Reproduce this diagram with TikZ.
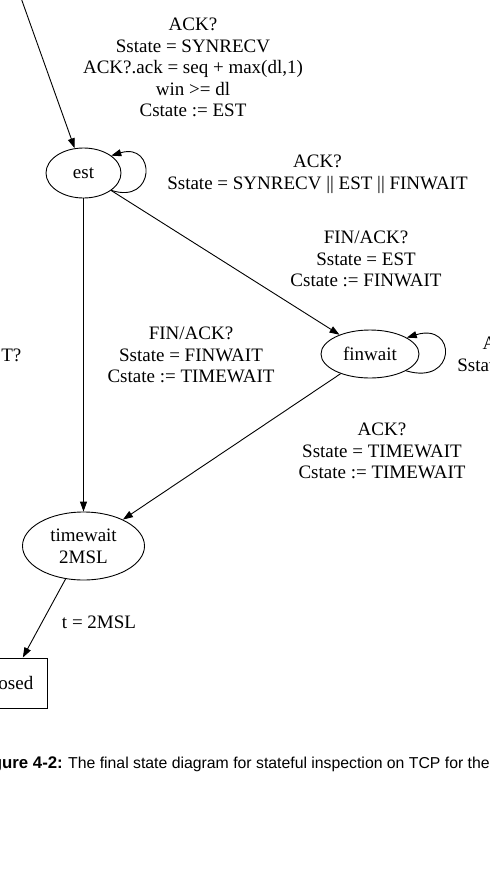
\documentclass[tikz,border=0pt]{standalone}
\usepackage{fontspec}
\setmainfont{Liberation Serif}
\newfontfamily\capfont{Liberation Sans}
\usetikzlibrary{arrows.meta,shapes.geometric}
\tikzset{
  lbl/.style={align=center,inner sep=0pt,font=\fontsize{19}{21.6}\selectfont},
  st/.style={draw,ellipse,line width=0.9pt,inner sep=0pt,font=\fontsize{19}{21.6}\selectfont,align=center},
  arr/.style={line width=0.9pt,-{Triangle[length=10pt,width=7pt]}},
  capt/.style={inner sep=0pt,font=\capfont\fontsize{15.8}{18}\selectfont}
}
\begin{document}
\begin{tikzpicture}[x=1pt,y=-1pt]
\useasboundingbox (0,0) rectangle (490,887);
\clip (0,0) rectangle (490,887);
% states
\node[st,minimum width=75pt,minimum height=50pt] (est) at (83.5,173) {est};
\node[st,minimum width=98pt,minimum height=48pt] (finwait) at (370,354) {finwait};
\node[st,minimum width=122pt,minimum height=68pt] (timewait) at (83.5,546) {timewait\\2MSL};
\node[draw,line width=0.9pt,minimum width=76pt,minimum height=50pt,inner sep=0pt,font=\fontsize{19}{21.6}\selectfont] (closed) at (9,683) {closed};
\coordinate (src) at (-4.5,-73.5);
% edges
\draw[arr] (src) -- (est);
\draw[arr] (est.-32) .. controls (156,205) and (156,142) .. (est.32);
\draw[arr] (est) -- (finwait);
\draw[arr] (est) -- (timewait);
\draw[arr] (finwait.-25) .. controls (457,386) and (457,322) .. (finwait.24);
\draw[arr] (finwait) -- (timewait);
\draw[arr] (timewait) -- (closed);
% labels
\node[lbl] (l1) at (193,67.5) {ACK?\\Sstate = SYNRECV\\ACK?.ack = seq + max(dl,1)\\win >= dl\\Cstate := EST};
\node[lbl] (l2) at (317.5,174) {ACK?\\Sstate = SYNRECV || EST || FINWAIT};
\node[lbl] (l3) at (366,259) {FIN/ACK?\\Sstate = EST\\Cstate := FINWAIT};
\node[lbl] (l4) at (191,355) {FIN/ACK?\\Sstate = FINWAIT\\Cstate := TIMEWAIT};
\node[lbl] (l5) at (382,451) {ACK?\\Sstate = TIMEWAIT\\Cstate := TIMEWAIT};
\node[lbl] (l6) at (99,622) {t = 2MSL};
\node[lbl,anchor=east] (l7) at (21.5,355) {RST?};
\node[lbl] (l8) at (507,354.5) {ACK?\\Sstate = EST};
% caption
\node[capt,anchor=base east,font=\capfont\bfseries\fontsize{16.8}{18}\selectfont] (cap1) at (63,768) {Figure 4-2:};
\node[capt,anchor=base west] (cap2) at (68,768) {The final state diagram for stateful inspection on TCP for the};
\end{tikzpicture}
\end{document}
